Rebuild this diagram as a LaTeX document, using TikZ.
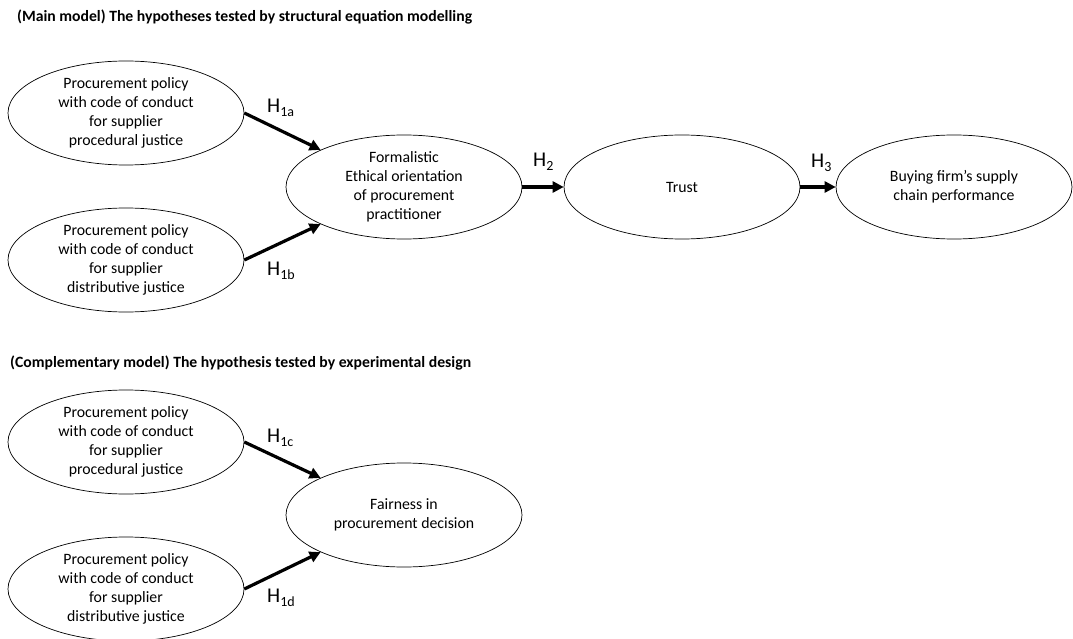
\documentclass[tikz,border=0pt]{standalone}
\usepackage{fontspec}
\setmainfont{Carlito}
\usetikzlibrary{shapes.geometric,arrows.meta}

\newcommand*{\hyp}[1]{H\raisebox{-4pt}{\fontsize{14}{14}\selectfont #1}}

\begin{document}
\begin{tikzpicture}
[
	x=1pt,y=-1pt,
	construct/.style={ellipse,draw,line width=0.7pt,inner sep=0pt,minimum width=236pt,minimum height=104pt,align=center,font=\fontsize{15.8}{19}\selectfont},
	hypline/.style={-{Triangle[length=11pt,width=11pt]},line width=3.2pt},
	hyplabel/.style={anchor=base west,inner sep=0pt,font=\fontsize{21}{21}\selectfont},
	heading/.style={anchor=base west,inner sep=0pt,font=\fontsize{15.7}{18}\selectfont\bfseries}
]

	\useasboundingbox (0,0) rectangle (1073,639);

	% main model
	\node[heading] at (17,22) (maintitle) {(Main model) The hypotheses tested by structural equation modelling};

	\node[construct] at (126,113) (pa) {Procurement policy\\with code of conduct\\for supplier\\procedural justice};
	\node[construct] at (126,260) (pb) {Procurement policy\\with code of conduct\\for supplier\\distributive justice};
	\node[construct] at (404,187) (form) {Formalistic\\Ethical orientation\\of procurement\\practitioner};
	\node[construct] at (682,187) (trust) {Trust};
	\node[construct] at (954,187) (perf) {Buying firm's supply\\chain performance};

	\draw[hypline] (pa.east) -- (form.156);
	\draw[hypline] (pb.east) -- (form.204);
	\draw[hypline] (form) -- (trust);
	\draw[hypline] (trust) -- (perf);

	\node[hyplabel] at (267,113) (ha) {\hyp{1a}};
	\node[hyplabel] at (267,275) (hb) {\hyp{1b}};
	\node[hyplabel] at (533,167) (htwo) {\hyp{2}};
	\node[hyplabel] at (811,168) (hthree) {\hyp{3}};

	% complementary model
	\node[heading] at (10,367) (comptitle) {(Complementary model) The hypothesis tested by experimental design};

	\node[construct] at (126,442) (pc) {Procurement policy\\with code of conduct\\for supplier\\procedural justice};
	\node[construct] at (126,589) (pd) {Procurement policy\\with code of conduct\\for supplier\\distributive justice};
	\node[construct] at (404,515) (fair) {Fairness in\\procurement decision};

	\draw[hypline] (pc.east) -- (fair.156);
	\draw[hypline] (pd.east) -- (fair.204);

	\node[hyplabel] at (267,442) (hc) {\hyp{1c}};
	\node[hyplabel] at (267,602) (hd) {\hyp{1d}};

\end{tikzpicture}
\end{document}
